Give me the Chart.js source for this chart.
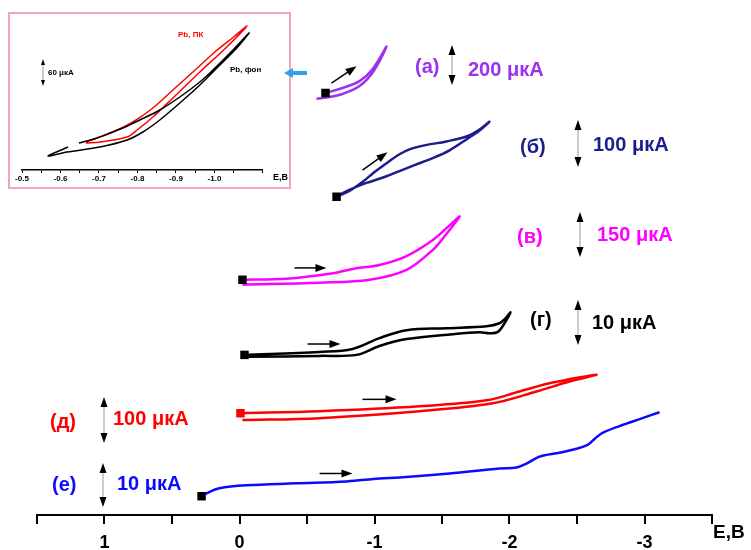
<!DOCTYPE html>
<html>
<head>
<meta charset="utf-8">
<script src="https://cdn.jsdelivr.net/npm/chart.js@4.4.1/dist/chart.umd.min.js"></script>
<style>
body { margin: 0; background: #fff; }
#wrap { position: relative; width: 751px; height: 550px; }
#mainChart { position: absolute; left: 0; top: 0; z-index: 2; }
#inset { position: absolute; left: 8px; top: 12px; width: 279px; height: 173px;
         border: 2px solid #f5a3c0; background: #fff; z-index: 1; }
#inset canvas { display: block; }
</style>
</head>
<body>
<div id="wrap">
  <div id="inset"><canvas id="insetChart" width="279" height="173"></canvas></div>
  <canvas id="mainChart" width="751" height="550"></canvas>
</div>
<script>
// main plot: E (V) and current with vertical offsets (arbitrary units)
var eA = [-0.637, -0.763, -0.889, -0.985, -1.089, -0.993, -0.889, -0.763, -0.667, -0.570];
var iA = [427, 432, 439, 451, 474, 449, 434, 426, 423, 421];

var eB = [-0.719, -0.815, -0.911, -1.0, -1.089, -1.185, -1.259, -1.370, -1.533, -1.681, -1.778, -1.852,
          -1.778, -1.681, -1.556, -1.430, -1.296, -1.185, -1.074, -0.941, -0.830, -0.741];
var iB = [322, 328, 337, 347, 356, 365, 370, 374, 378, 383, 390, 398,
          389, 380, 369, 361, 354, 348, 342, 336, 330, 324];

var eV = [-0.022, -0.348, -0.667, -0.837, -1.037, -1.237, -1.430, -1.556, -1.630,
          -1.519, -1.430, -1.237, -0.963, -0.593, -0.022];
var iV = [238, 239, 244, 249, 253, 262, 278, 293, 302, 282, 268, 248, 238, 235, 233];

var eG = [-0.037, -0.593, -0.837, -1.037, -1.237, -1.533, -1.830, -1.926, -1.970, -2.007,
          -1.963, -1.911, -1.852, -1.778, -1.578, -1.237, -1.037, -0.867, -0.593, -0.052];
var iG = [162, 165, 168, 179, 187, 189, 191, 194, 199, 205,
          194, 185, 184, 185, 183, 178, 171, 162, 161, 160];

var eD = [-0.007, -0.593, -1.333, -1.830, -2.074, -2.319, -2.644, -2.444, -2.200, -1.874, -1.333, -0.593, -0.022];
var iD = [103, 105, 110, 116, 125, 134, 142, 135, 125, 113, 105, 98, 96];

var eE = [0.281, 0.244, 0.148, -0.052, -0.422, -0.793, -1.037, -1.185, -1.556, -1.926, -2.052,
          -2.126, -2.222, -2.370, -2.496, -2.578, -2.630, -2.689, -2.815, -2.985, -3.111];
var iE = [19, 22, 27, 30, 32, 34, 37, 38, 42, 47, 48, 52, 59, 63, 67, 71, 77, 83, 90, 98, 104];

// sweep direction arrows [E0, i0, E1, i1]
var sweepArrows = [
  [-0.681, 437, -0.867, 454],
  [-0.911, 349, -1.096, 367],
  [-0.407, 250, -0.644, 250],
  [-0.504, 173, -0.748, 173],
  [-0.911, 117, -1.163, 117],
  [-0.593, 42, -0.837, 42]
];

var curveNames = ['(а)', '(б)', '(в)', '(г)', '(д)', '(е)'];
var scaleTexts = ['200 μкА', '100 μкА', '150 μкА', '10 μкА', '100 μкА', '10 μкА'];
var colors = ['#9b30f0', '#1c1c8a', '#ff00ff', '#000000', '#ff0000', '#0a0aff'];

// inset: Pb background and Pb with ПК
var eInB = [-0.6195, -0.5675, -0.617, -0.703, -0.773, -0.814, -0.858, -0.910, -0.962, -1.014, -1.058, -1.090,
            -1.048, -0.996, -0.962, -0.910, -0.858, -0.806, -0.762, -0.729, -0.695, -0.648];
var iInB = [23, 14, 18, 23, 30, 38, 50, 67, 85, 105, 122, 137,
            120, 100, 88, 73, 60, 50, 42, 37, 32, 27];
var eInR = [-0.666, -0.703, -0.773, -0.799, -0.840, -0.892, -0.962, -1.032, -1.084,
            -1.053, -1.001, -0.944, -0.892, -0.840, -0.788, -0.736, -0.695, -0.666];
var iInR = [27, 28, 33, 40, 53, 72, 98, 123, 144, 134, 118, 98, 80, 62, 48, 38, 32, 28];

var FONT = 'Liberation Sans';

function pts(e, i) {
  return e.map(function (v, k) { return { x: v, y: i[k] }; });
}

function drawArrow(c, x0, y0, x1, y1, color, lw, head, hw) {
  var a = Math.atan2(y1 - y0, x1 - x0);
  c.save();
  c.strokeStyle = color;
  c.lineWidth = lw;
  c.beginPath();
  c.moveTo(x0, y0);
  c.lineTo(x1 - head * 0.8 * Math.cos(a), y1 - head * 0.8 * Math.sin(a));
  c.stroke();
  c.fillStyle = color;
  c.beginPath();
  c.moveTo(x1, y1);
  c.lineTo(x1 - head * Math.cos(a) + hw * Math.sin(a), y1 - head * Math.sin(a) - hw * Math.cos(a));
  c.lineTo(x1 - head * Math.cos(a) - hw * Math.sin(a), y1 - head * Math.sin(a) + hw * Math.cos(a));
  c.closePath();
  c.fill();
  c.restore();
}

function drawScaleBar(c, x, y0, y1, head, hw) {
  c.save();
  c.strokeStyle = '#999';
  c.lineWidth = 1;
  c.beginPath();
  c.moveTo(x, y0 + head);
  c.lineTo(x, y1 - head);
  c.stroke();
  c.fillStyle = '#000';
  c.beginPath();
  c.moveTo(x, y0); c.lineTo(x - hw, y0 + head); c.lineTo(x + hw, y0 + head); c.closePath();
  c.moveTo(x, y1); c.lineTo(x - hw, y1 - head); c.lineTo(x + hw, y1 - head); c.closePath();
  c.fill();
  c.restore();
}

function curve(e, i, color, markColor) {
  return {
    data: pts(e, i),
    borderColor: color,
    borderWidth: 2.5,
    tension: 0.35,
    fill: false,
    pointStyle: 'rect',
    pointRadius: function (ctx) { return ctx.dataIndex === 0 ? 6 : 0; },
    pointBackgroundColor: markColor,
    pointBorderWidth: 0
  };
}

// label layout: name position, scale-bar position, scale text position
var nameX = [415, 520, 517, 530, 50, 52];
var nameY = [67, 147, 237, 320, 422, 485];
var barX = [452, 578, 580, 578, 104, 103];
var barTop = [45, 120, 212, 300, 397, 463];
var barBottom = [85, 167, 257, 345, 443, 507];
var textX = [468, 593, 597, 592, 113, 117];
var textY = [70, 145, 235, 323, 419, 484];

var mainAnnot = {
  id: 'mainAnnot',
  afterDraw: function (chart) {
    var c = chart.ctx, xs = chart.scales.x, ys = chart.scales.y;
    sweepArrows.forEach(function (a) {
      drawArrow(c, xs.getPixelForValue(a[0]), ys.getPixelForValue(a[1]),
                xs.getPixelForValue(a[2]), ys.getPixelForValue(a[3]), '#000', 1.5, 11, 4);
    });
    c.save();
    c.font = 'bold 20px "' + FONT + '"';
    c.textBaseline = 'middle';
    c.textAlign = 'left';
    for (var k = 0; k < curveNames.length; k++) {
      c.fillStyle = colors[k];
      c.fillText(curveNames[k], nameX[k], nameY[k]);
      c.fillText(scaleTexts[k], textX[k], textY[k]);
      drawScaleBar(c, barX[k], barTop[k], barBottom[k], 10, 3.5);
    }
    c.fillStyle = '#000';
    c.font = 'bold 19px "' + FONT + '"';
    c.fillText('E,B', 713, 533);
    c.restore();
    drawArrow(c, 307, 73, 284, 73, '#2aa4e6', 4, 9, 5);
  }
};

new Chart(document.getElementById('mainChart'), {
  type: 'line',
  data: {
    datasets: [
      curve(eA, iA, colors[0], '#000'),
      curve(eB, iB, colors[1], '#000'),
      curve(eV, iV, colors[2], '#000'),
      curve(eG, iG, colors[3], '#000'),
      curve(eD, iD, colors[4], '#ff0000'),
      curve(eE, iE, colors[5], '#000')
    ]
  },
  options: {
    responsive: false,
    animation: false,
    devicePixelRatio: 1,
    layout: { padding: { left: 37, right: 39, top: 0, bottom: 0 } },
    plugins: { legend: { display: false }, tooltip: { enabled: false } },
    scales: {
      x: {
        type: 'linear', reverse: true, min: -3.5, max: 1.5,
        afterFit: function (s) { s.height = 35; },
        ticks: {
          stepSize: 0.5, autoSkip: false, maxRotation: 0, padding: 10, color: '#000',
          font: { family: FONT, size: 18, weight: 'bold', lineHeight: 1 },
          callback: function (v) {
            return Math.abs(v - Math.round(v)) < 1e-9 ? String(Math.round(v)) : '';
          }
        },
        grid: { drawOnChartArea: false, drawTicks: true, tickLength: 9, color: '#000', lineWidth: 2 },
        border: { display: true, color: '#000', width: 2 }
      },
      y: { display: false, min: 0, max: 515 }
    }
  },
  plugins: [mainAnnot]
});

var insetAnnot = {
  id: 'insetAnnot',
  afterDraw: function (chart) {
    var c = chart.ctx;
    c.save();
    c.font = 'bold 8px "' + FONT + '"';
    c.textBaseline = 'middle';
    c.textAlign = 'left';
    c.fillStyle = '#ff0000';
    c.fillText('Pb, ПК', 168, 21);
    c.fillStyle = '#000';
    c.fillText('Pb, фон', 220, 56);
    c.fillText('60 μкА', 38, 59);
    c.font = 'bold 9px "' + FONT + '"';
    c.fillText('E,B', 263, 164);
    c.restore();
    drawScaleBar(c, 33, 45, 72, 6, 2);
  }
};

function insetCurve(e, i, color) {
  return { data: pts(e, i), borderColor: color, borderWidth: 1.5, tension: 0.3, fill: false, pointRadius: 0 };
}

new Chart(document.getElementById('insetChart'), {
  type: 'line',
  data: { datasets: [insetCurve(eInB, iInB, '#000'), insetCurve(eInR, iInR, '#ff0000')] },
  options: {
    responsive: false,
    animation: false,
    devicePixelRatio: 1,
    layout: { padding: { left: 12, right: 26.4, top: 0, bottom: 0 } },
    plugins: { legend: { display: false }, tooltip: { enabled: false } },
    scales: {
      x: {
        type: 'linear', reverse: true, min: -1.125, max: -0.5,
        afterFit: function (s) { s.height = 17; },
        ticks: {
          stepSize: 0.05, autoSkip: false, maxRotation: 0, padding: 2, color: '#000',
          font: { family: FONT, size: 8, weight: 'bold', lineHeight: 1 },
          callback: function (v) {
            return Math.abs(v * 10 - Math.round(v * 10)) < 1e-6 ? (Math.round(v * 10) / 10).toFixed(1) : '';
          }
        },
        grid: { drawOnChartArea: false, drawTicks: true, tickLength: 3, color: '#000', lineWidth: 1 },
        border: { display: true, color: '#000', width: 1.5 }
      },
      y: { display: false, min: 0, max: 156 }
    }
  },
  plugins: [insetAnnot]
});
</script>
</body>
</html>
